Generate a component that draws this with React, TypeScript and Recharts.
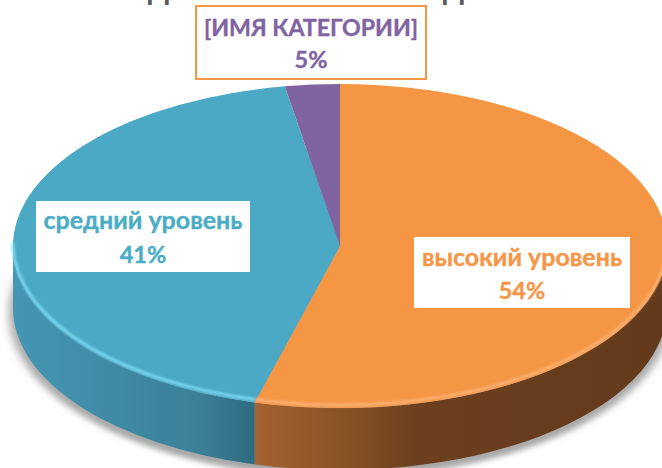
import React from "react";
import { PieChart, Pie, Cell, Sector, Customized } from "recharts";

const categories = ["высокий уровень", "средний уровень", "[ИМЯ КАТЕГОРИИ]"];
const sliceValues = [54.2, 43.1, 2.7];
const percentLabels = ["54%", "41%", "5%"];
const faceColors = ["#F59645", "#4BA9C6", "#8064A2"];
const wallFills = ["url(#wallOrange)", "url(#wallBlue)", "#6a5288"];
const rimColors = ["#FCB478", "#7FDDF5", "#8064A2"];
const textColors = ["#F79646", "#4BACC6", "#8064A2"];

const W = 662;
const H = 468;
const CX = 340;
const CY = 246;
const R = 327;
const K = 162 / 327;
const WALL = 62;

const labelBoxes = [
  { x: 414, y: 237, w: 216, h: 71, border: false, nameSize: 25, nameY: 29 },
  { x: 36, y: 201, w: 214, h: 71, border: false, nameSize: 25, nameY: 28 },
  { x: 196, y: 6, w: 230, h: 73, border: true, nameSize: 23.2, nameY: 30 },
];

const rows = categories.map((name, i) => ({ name, value: sliceValues[i], percent: percentLabels[i] }));
const total = [{ name: "total", value: sliceValues.reduce((a, b) => a + b, 0) }];

const squash = (cx: number, cy: number, dy = 0) =>
  `translate(${cx},${cy + dy}) scale(1,${K}) translate(${-cx},${-cy})`;

const FaceShape = (p: any) => (
  <g transform={squash(p.cx, p.cy)}>
    <Sector cx={p.cx} cy={p.cy} innerRadius={0} outerRadius={p.outerRadius} startAngle={p.startAngle} endAngle={p.endAngle} fill={p.fill} stroke="none" />
  </g>
);

const ShadowShape = (p: any) => (
  <g transform={squash(p.cx, p.cy, WALL + 5)} filter="url(#pieShadow)">
    <Sector cx={p.cx} cy={p.cy} innerRadius={0} outerRadius={p.outerRadius + 4} startAngle={p.startAngle} endAngle={p.endAngle} fill="#000" fillOpacity={0.34} stroke="none" />
  </g>
);

const pt = (p: any, a: number, dy = 0) => {
  const t = (a * Math.PI) / 180;
  return `${p.cx + p.outerRadius * Math.cos(t)},${p.cy - K * p.outerRadius * Math.sin(t) + dy}`;
};

const WallShape = (p: any) => {
  const s = Math.min(p.startAngle, 0);
  const e = Math.max(p.endAngle, -180);
  if (s <= e) return <g />;
  const rx = p.outerRadius;
  const ry = K * p.outerRadius;
  const wall = `M${pt(p, s)} A${rx},${ry} 0 0 1 ${pt(p, e)} L${pt(p, e, WALL)} A${rx},${ry} 0 0 0 ${pt(p, s, WALL)} Z`;
  return <path d={wall} fill={p.wallFill} stroke="none" />;
};

const RimShape = (p: any) => {
  const s = Math.min(p.startAngle, 0);
  const e = Math.max(p.endAngle, -180);
  if (s <= e) return <g />;
  const rx = p.outerRadius;
  const ry = K * p.outerRadius;
  const rim = `M${pt(p, s, -3)} A${rx},${ry} 0 0 1 ${pt(p, e, -3)}`;
  return <path d={rim} fill="none" stroke={p.rimColor} strokeWidth={3} strokeOpacity={0.9} filter="url(#rimBlur)" />;
};

const renderLabel = (p: any) => {
  const b = labelBoxes[p.index];
  const mid = b.x + b.w / 2;
  const color = textColors[p.index];
  return (
    <g key={p.index}>
      <rect x={b.x} y={b.y} width={b.w} height={b.h} fill="#fff" stroke={b.border ? "#F59645" : "none"} strokeWidth={2} />
      <text x={mid} y={b.y + b.nameY} textAnchor="middle" fontFamily="Lato, 'Open Sans', sans-serif" fontWeight={700} fontSize={b.nameSize} fill={color} stroke={color} strokeWidth={0.35}>
        {p.name}
      </text>
      <text x={mid} y={b.y + 62} textAnchor="middle" fontFamily="Lato, 'Open Sans', sans-serif" fontWeight={700} fontSize={23.5} fill={color} stroke={color} strokeWidth={0.35}>
        {p.percent}
      </text>
    </g>
  );
};

const TitleRemnant = () => (
  <g fontFamily="'Liberation Sans', sans-serif" fontWeight={700} fontSize={30} fill="#595959">
    <text x={158.5} y={-1.5} textAnchor="middle">Д</text>
    <text x={453.5} y={-1.5} textAnchor="middle">Д</text>
  </g>
);

export default function App() {
  return (
    <div style={{ position: "absolute", left: 0, top: 0, width: W, height: H, overflow: "hidden", background: "#fff" }}>
      <PieChart width={W} height={H} margin={{ top: 0, right: 0, bottom: 0, left: 0 }}>
        <defs>
          <linearGradient id="wallOrange" gradientUnits="userSpaceOnUse" x1={254} y1={0} x2={662} y2={0}>
            <stop offset="0" stopColor="#A5632F" />
            <stop offset="0.2" stopColor="#8A5428" />
            <stop offset="0.4" stopColor="#6C3F1E" />
            <stop offset="1" stopColor="#633A1B" />
          </linearGradient>
          <linearGradient id="wallBlue" gradientUnits="userSpaceOnUse" x1={13} y1={0} x2={254} y2={0}>
            <stop offset="0" stopColor="#4596B3" />
            <stop offset="0.4" stopColor="#3F8BA6" />
            <stop offset="0.78" stopColor="#3A7F97" />
            <stop offset="1" stopColor="#2E6A80" />
          </linearGradient>
          <filter id="pieShadow" x="-10%" y="-10%" width="120%" height="120%">
            <feGaussianBlur stdDeviation="5" />
          </filter>
          <filter id="rimBlur" x="-5%" y="-5%" width="110%" height="110%">
            <feGaussianBlur stdDeviation="0.8" />
          </filter>
        </defs>
        <Pie data={total} dataKey="value" cx={CX} cy={CY} outerRadius={R} startAngle={90} endAngle={-270} stroke="none" shape={ShadowShape} isAnimationActive={false} />
        <Pie
          data={rows}
          dataKey="value"
          cx={CX}
          cy={CY}
          outerRadius={R}
          startAngle={90}
          endAngle={-270}
          stroke="none"
          shape={(p: any) => <WallShape {...p} wallFill={wallFills[p.index]} />}
          isAnimationActive={false}
        />
        <Pie
          data={rows}
          dataKey="value"
          cx={CX}
          cy={CY}
          outerRadius={R}
          startAngle={90}
          endAngle={-270}
          stroke="none"
          shape={FaceShape}
          isAnimationActive={false}
        >
          {rows.map((r, i) => (
            <Cell key={r.name} fill={faceColors[i]} />
          ))}
        </Pie>
        <Pie
          data={rows}
          dataKey="value"
          cx={CX}
          cy={CY}
          outerRadius={R}
          startAngle={90}
          endAngle={-270}
          stroke="none"
          shape={(p: any) => <RimShape {...p} rimColor={rimColors[p.index]} />}
          label={renderLabel}
          labelLine={false}
          isAnimationActive={false}
        />
        <Customized component={TitleRemnant} />
      </PieChart>
    </div>
  );
}
